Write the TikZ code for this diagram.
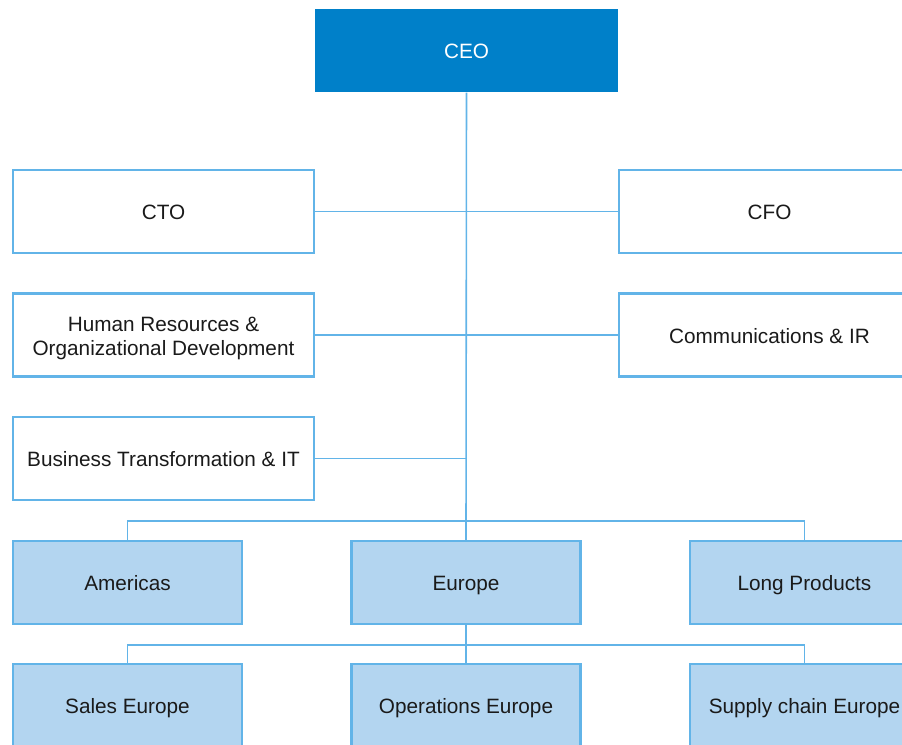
\documentclass[tikz,border=0pt]{standalone}
\usepackage{fontspec}
\setmainfont{Liberation Sans}
\usetikzlibrary{positioning}

\definecolor{ceoblue}{HTML}{0080C9}
\definecolor{lineblue}{HTML}{62B4E8}
\definecolor{paleblue}{HTML}{B3D5F0}
\definecolor{inkgrey}{HTML}{1A1A1A}

\tikzset{
    chartfont/.style={font=\fontsize{5.9}{6.8}\selectfont},
    unitbox/.style={draw=lineblue, line width=0.7pt, fill=white,
        minimum width=3.01cm, minimum height=0.83cm, inner sep=0pt,
        align=center, text=inkgrey, chartfont},
    oneline/.style={text height=5.2pt, text depth=0.45pt},
    twoline/.style={text height=12pt, text depth=0.2pt},
    regionbox/.style={unitbox, oneline, fill=paleblue, minimum width=2.29cm},
    link/.style={draw=lineblue, line width=0.45pt}
}

\begin{document}
\begin{tikzpicture}[x=0.01cm, y=-0.01cm]
        % Frame of the page
        \useasboundingbox (0,0) rectangle (902,744);
        \clip (0,0) rectangle (902,744);

        % Top of the chart
        \node[fill=ceoblue, minimum width=3.03cm, minimum height=0.83cm, inner sep=0pt,
              text=white, chartfont, oneline] (ceo) at (466.5,50.5) {CEO};

        % Staff functions
        \node[unitbox, oneline] (cto) at (163.5,211.5) {CTO};
        \node[unitbox, oneline] (cfo) at (769.5,211.5) {CFO};
        \node[unitbox, twoline] (hr) at (163.5,335) {Human Resources \&\\Organizational Development};
        \node[unitbox, oneline] (comms) at (769.5,335) {Communications \& IR};
        \node[unitbox, oneline] (bt) at (163.5,458.5) {Business Transformation \& IT};

        % Regions
        \node[regionbox] (americas) at (127.5,582.5) {Americas};
        \node[regionbox] (europe) at (466,582.5) {Europe};
        \node[regionbox] (longprod) at (804.5,582.5) {Long Products};

        % Europe units
        \node[regionbox] (sales) at (127.5,705.5) {Sales Europe};
        \node[regionbox] (operations) at (466,705.5) {Operations Europe};
        \node[regionbox] (supply) at (804.5,705.5) {Supply chain Europe};

        \coordinate (bus1) at (466,521);
        \coordinate (bus2) at (466,645);

        % Draw connectors
        \draw[link] (ceo.south) -- (europe.north);
        \draw[link] (cto.east) -- (cfo.west);
        \draw[link] (hr.east) -- (comms.west);
        \draw[link] (bt.east) -- (bt.east -| ceo.south);
        \draw[link] (americas.north) |- (bus1) -| (longprod.north);

        \draw[link] (europe.south) -- (bus2);
        \draw[link] (sales.north) |- (bus2) -| (supply.north);
        \draw[link] (bus2) -- (operations.north);
    \end{tikzpicture}
\end{document}
